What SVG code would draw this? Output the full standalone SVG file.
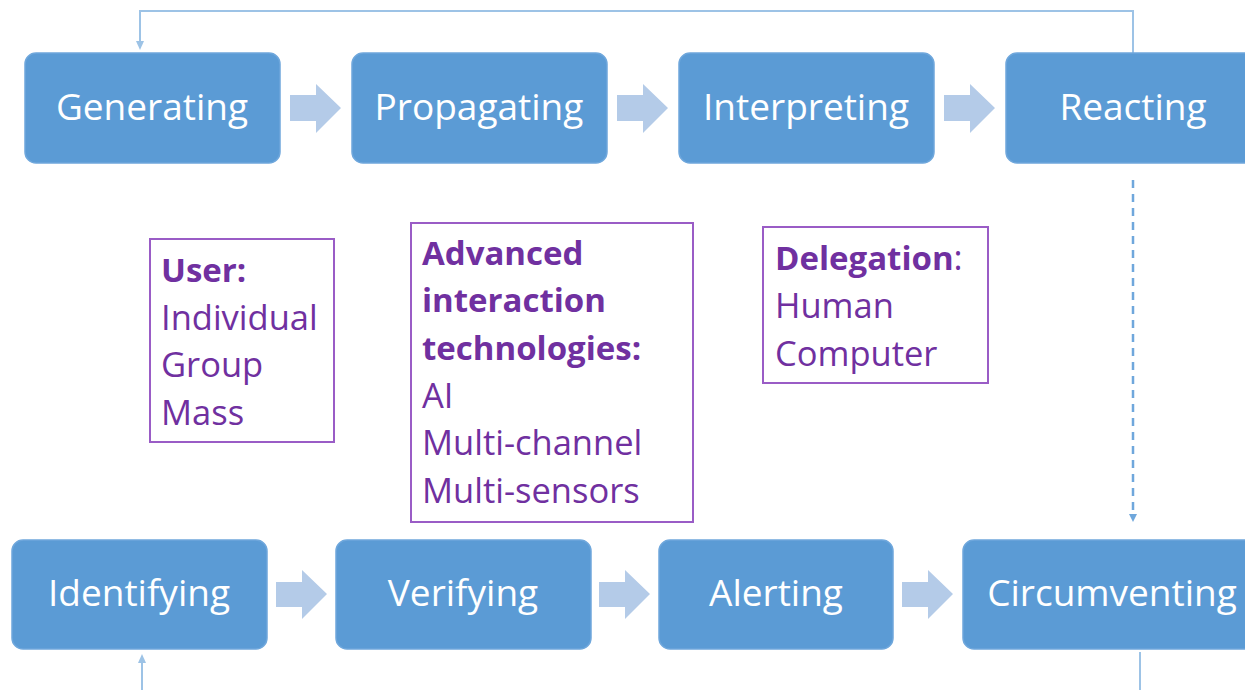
<svg xmlns="http://www.w3.org/2000/svg" width="1245" height="690" viewBox="0 0 1245 690">
<style>
.node{fill:#5b9bd5;stroke:#6fa7dc;stroke-width:1.5}
.nt{font-family:"Open Sans","Liberation Sans",sans-serif;font-size:37px;fill:#ffffff;text-anchor:middle}
.fat{fill:#b4cbe8}
.box{fill:#ffffff;stroke:#9a5cc6;stroke-width:2}
.bt{font-family:"Open Sans","Liberation Sans",sans-serif;font-size:34.5px;fill:#7030a0}
.b{font-weight:bold;font-size:33px}
.ln{fill:none;stroke:#9dc3e6;stroke-width:2}
</style>
<defs>
<marker id="ah" markerWidth="8" markerHeight="8" refX="4" refY="4" orient="auto" markerUnits="userSpaceOnUse"><path d="M0,0 L8,4 L0,8 z" fill="#6fa7dc"/></marker>
<marker id="ah2" markerWidth="10" markerHeight="10" refX="5" refY="5" orient="auto" markerUnits="userSpaceOnUse"><path d="M0,1 L9,5 L0,9 z" fill="#9dc3e6"/></marker>
</defs>
<rect width="1245" height="690" fill="#ffffff"/>
<g id="connectors">
<polyline class="ln" points="1133,53 1133,11 140,11 140,46" marker-end="url(#ah2)"/>
<line x1="1133" y1="180" x2="1133" y2="518" stroke="#6fa7dc" stroke-width="2.5" stroke-dasharray="8,6" marker-end="url(#ah)"/>
<line class="ln" x1="1140" y1="652" x2="1140" y2="690"/>
<line class="ln" x1="142" y1="690" x2="142" y2="658" marker-end="url(#ah2)"/>
<path class="fat" d="M290,95 L316,95 L316,84 L341,108 L316,133 L316,121 L290,121 z"/>
<path class="fat" d="M617,95 L643,95 L643,84 L668,108 L643,133 L643,121 L617,121 z"/>
<path class="fat" d="M944,95 L970,95 L970,84 L995,108 L970,133 L970,121 L944,121 z"/>
<path class="fat" d="M276,582 L302,582 L302,570 L327,594 L302,619 L302,607 L276,607 z"/>
<path class="fat" d="M599,582 L625,582 L625,570 L650,594 L625,619 L625,607 L599,607 z"/>
<path class="fat" d="M902,582 L928,582 L928,570 L953,594 L928,619 L928,607 L902,607 z"/>
</g>
<g id="n-generating"><rect class="node" x="25" y="53" width="255" height="110" rx="11"/><text class="nt" x="152" y="120">Generating</text></g>
<g id="n-propagating"><rect class="node" x="352" y="53" width="255" height="110" rx="11"/><text class="nt" x="479" y="120">Propagating</text></g>
<g id="n-interpreting"><rect class="node" x="679" y="53" width="255" height="110" rx="11"/><text class="nt" x="806" y="120">Interpreting</text></g>
<g id="n-reacting"><rect class="node" x="1006" y="53" width="260" height="110" rx="11"/><text class="nt" x="1133" y="120">Reacting</text></g>
<g id="n-identifying"><rect class="node" x="12" y="540" width="255" height="109" rx="11"/><text class="nt" x="139" y="606">Identifying</text></g>
<g id="n-verifying"><rect class="node" x="336" y="540" width="255" height="109" rx="11"/><text class="nt" x="463" y="606">Verifying</text></g>
<g id="n-alerting"><rect class="node" x="659" y="540" width="234" height="109" rx="11"/><text class="nt" x="776" y="606">Alerting</text></g>
<g id="n-circumventing"><rect class="node" x="963" y="540" width="300" height="109" rx="11"/><text class="nt" x="1112" y="606">Circumventing</text></g>
<g id="b-user"><rect class="box" x="150" y="239" width="184" height="203"/>
<text class="bt"><tspan class="b" x="161" y="282">User:</tspan><tspan x="161" y="330">Individual</tspan><tspan x="161" y="377">Group</tspan><tspan x="161" y="425">Mass</tspan></text></g>
<g id="b-tech"><rect class="box" x="411" y="223" width="282" height="299"/>
<text class="bt"><tspan class="b" x="422" y="265">Advanced</tspan><tspan class="b" x="422" y="312">interaction</tspan><tspan class="b" x="422" y="360">technologies:</tspan><tspan x="422" y="408">AI</tspan><tspan x="422" y="455">Multi-channel</tspan><tspan x="422" y="503">Multi-sensors</tspan></text></g>
<g id="b-delegation"><rect class="box" x="763" y="227" width="225" height="156"/>
<text class="bt"><tspan x="775" y="270"><tspan class="b">Delegation</tspan>:</tspan><tspan x="775" y="318">Human</tspan><tspan x="775" y="366">Computer</tspan></text></g>
</svg>
